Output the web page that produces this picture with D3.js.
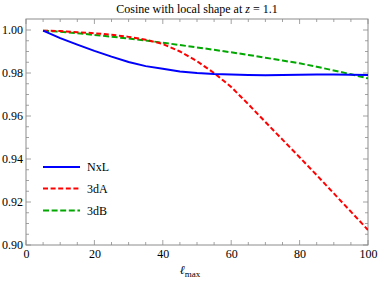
<!DOCTYPE html>
<html><head><meta charset="utf-8">
<script src="https://cdn.jsdelivr.net/npm/d3@7"></script>
<style>
body{margin:0;background:#fff;}
text{font-family:"Liberation Serif","DejaVu Serif",serif;}
</style></head>
<body><svg id="c" width="379" height="283"></svg>
<script>
const lmax = [5,10,15,20,25,30,35,40,45,50,55,60,65,70,75,80,85,90,95,100];
const nxl  = [0.9997,0.9962,0.9932,0.9903,0.9876,0.9851,0.9832,0.9820,0.9807,0.9800,0.9795,0.9793,0.9791,0.9790,0.9791,0.9792,0.9793,0.9793,0.9792,0.9791];
const d3A  = [0.9997,0.9995,0.9990,0.9985,0.9978,0.9968,0.9955,0.9935,0.9900,0.9855,0.9800,0.9735,0.9655,0.9572,0.9490,0.9408,0.9325,0.9240,0.9155,0.9070];
const d3B  = [0.9997,0.9992,0.9985,0.9977,0.9969,0.9960,0.9951,0.9941,0.9930,0.9919,0.9908,0.9896,0.9884,0.9871,0.9858,0.9845,0.9829,0.9812,0.9794,0.9775];
const seriesNames = ["NxL","3dA","3dB"];
const xTicks = [0,20,40,60,80,100];
const yTicks = [0.90,0.92,0.94,0.96,0.98,1.00];

const svg = d3.select("#c");
const L=26,R=368,T=19,B=245;
const x = d3.scaleLinear().domain([0,100]).range([L,R]);
const y = d3.scaleLinear().domain([0.90,1.00]).range([B,30]);
const yTop = y.invert(T);

const frame = "#8c8c8c";
// minor/major ticks
const xMinor = d3.range(0,101,5);
const yMinor = d3.range(0,21).map(i=>+(0.90+i*0.005).toFixed(3)).filter(v=>v<=yTop);
const g = svg.append("g");
xMinor.forEach(v=>{
  const maj = v%20===0; const len = maj?5:3;
  g.append("line").attr("x1",x(v)).attr("x2",x(v)).attr("y1",B).attr("y2",B-len).attr("stroke",frame).attr("stroke-width",0.8);
  g.append("line").attr("x1",x(v)).attr("x2",x(v)).attr("y1",T).attr("y2",T+len).attr("stroke",frame).attr("stroke-width",0.8);
});
yMinor.forEach(v=>{
  const maj = Math.round(v*1000)%20===0; const len = maj?5:3;
  g.append("line").attr("y1",y(v)).attr("y2",y(v)).attr("x1",L).attr("x2",L+len).attr("stroke",frame).attr("stroke-width",0.8);
  g.append("line").attr("y1",y(v)).attr("y2",y(v)).attr("x1",R).attr("x2",R-len).attr("stroke",frame).attr("stroke-width",0.8);
});
g.append("rect").attr("x",L).attr("y",T).attr("width",R-L).attr("height",B-T).attr("fill","none").attr("stroke",frame).attr("stroke-width",1);

// axis labels via d3 axes (no lines)
const xa = svg.append("g").attr("transform",`translate(0,${B})`).call(d3.axisBottom(x).tickValues(xTicks).tickSize(0).tickPadding(4).tickFormat(d3.format("d")));
xa.select(".domain").remove();
xa.selectAll("text").attr("font-size",12).attr("font-family","Liberation Serif").attr("fill","#000");
const ya = svg.append("g").attr("transform",`translate(${L},0)`).call(d3.axisLeft(y).tickValues(yTicks).tickSize(0).tickPadding(3).tickFormat(d3.format(".2f")));
ya.select(".domain").remove();
ya.selectAll("text").attr("font-size",12).attr("font-family","Liberation Serif").attr("fill","#000");

const colors = ["#0000ff","#ff0000","#00a800"];
const dashes = [null,"5,2.6","6,2.6"];
const data = [nxl,d3A,d3B];
const line = d3.line().x((d,i)=>x(lmax[i])).y(d=>y(d));
svg.append("defs").append("clipPath").attr("id","clip").append("rect").attr("x",L).attr("y",T).attr("width",R-L).attr("height",B-T);
[2,1,0].forEach(k=>{
  svg.append("path").datum(data[k]).attr("d",line).attr("fill","none")
    .attr("stroke",colors[k]).attr("stroke-width",2).attr("stroke-dasharray",dashes[k]).attr("clip-path","url(#clip)");
});

// legend
const legY=[167,188.5,210.5];
seriesNames.forEach((n,k)=>{
  svg.append("line").attr("x1",43).attr("x2",80).attr("y1",legY[k]).attr("y2",legY[k])
    .attr("stroke",colors[k]).attr("stroke-width",2).attr("stroke-dasharray",dashes[k]);
  svg.append("text").attr("x",87).attr("y",legY[k]+4).attr("font-size",12).text(n);
});

// title
const t = svg.append("text").attr("x",197).attr("y",13).attr("text-anchor","middle").attr("font-size",12);
t.append("tspan").text("Cosine with local shape at ");
t.append("tspan").attr("font-style","italic").text("z");
t.append("tspan").text(" = 1.1");

// x label
const xl = svg.append("text").attr("x",190).attr("y",274).attr("text-anchor","middle").attr("font-size",12);
xl.append("tspan").attr("font-style","italic").text("\u2113");
xl.append("tspan").attr("font-size",9).attr("dy",3).text("max");
</script></body></html>
